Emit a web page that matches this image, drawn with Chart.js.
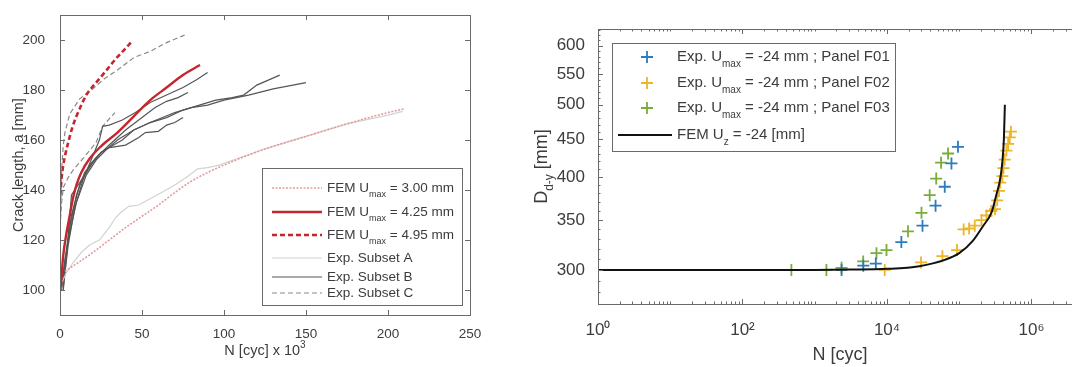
<!DOCTYPE html>
<html lang="en">
<head>
<meta charset="UTF-8">
<title>Crack length and D_d-y vs number of cycles</title>
<script src="https://cdn.jsdelivr.net/npm/chart.js@4.4.1/dist/chart.umd.min.js"></script>
<style>
    html, body {
        margin: 0;
        padding: 0;
        background: #ffffff;
        width: 1072px;
        height: 367px;
        overflow: hidden;
    }
    #leftChart { position: absolute; left: 0; top: 0; }
    #rightChart { position: absolute; left: 530px; top: 0; }
</style>
</head>
<body>
<canvas id="leftChart" width="490" height="367"></canvas>
<canvas id="rightChart" width="580" height="367"></canvas>
<script>
// ---------- left panel: N [cyc] x 10^3 vs crack length a [mm] ----------
const aTicksX = [0, 50, 100, 150, 200, 250];
const aTicksY = [100, 120, 140, 160, 180, 200];

const fem300N = [3, 10, 20, 30, 40, 50, 60, 70, 80, 90, 100, 115, 130, 150, 175, 200, 210];
const fem300A = [107.5, 110.5, 115, 120, 125, 129.5, 134, 139, 143.5, 147, 150, 154, 157.5, 161.5, 166.5, 171, 172.5];
const fem425N = [0.5, 1, 2, 4, 6, 8, 10, 13, 18, 25, 35, 45, 55, 65, 75, 85.4];
const fem425A = [101, 106, 114, 123, 130, 137, 142, 147, 152.5, 157.5, 163, 169.5, 176, 181, 186, 190];
const fem495N = [0.2, 1, 2, 3.5, 5, 7.5, 10, 13, 16, 20, 24, 29, 34, 39, 44];
const fem495A = [138, 145, 150, 155, 159, 165, 169.5, 174, 178, 181.5, 184.5, 188.5, 192.5, 196, 199.6];

const expAN = [1, 4, 8, 13, 18, 24, 30, 34, 37, 42, 48, 55, 62, 70, 78, 84, 90, 97, 110, 125, 150, 175, 200, 209];
const expAA = [103, 107, 111, 115, 118, 120, 125, 129, 131, 133.5, 134, 136.5, 139, 142, 145.5, 148.5, 149, 150, 153, 156.5, 161.5, 166.5, 170, 171.5];

const expB1N = [2, 5, 9, 14, 19, 24, 26, 30, 38, 46, 55, 65, 75, 83, 90];
const expB1A = [101, 118, 133, 144, 152, 160, 165.5, 166, 168, 171, 175, 178, 181, 184, 187];
const expB2N = [2, 6, 10, 15, 22, 30, 40, 50, 58, 65, 72, 78];
const expB2A = [104, 125, 138, 147, 153, 158, 164, 169, 173, 175.5, 177, 179];
const expB3N = [1, 3, 7, 12, 18, 25, 30, 38, 45, 55, 65, 75, 85, 95, 105, 112, 120, 127, 134];
const expB3A = [100, 112, 130, 142, 150, 155, 157, 160, 164, 167, 169, 172, 174, 176, 177, 178, 182, 184, 186];
const expB4N = [1, 5, 10, 16, 22, 28, 35, 45, 55, 70, 80, 90, 100, 115, 130, 150];
const expB4A = [103, 120, 135, 146, 152, 156, 160, 164, 167, 171, 173, 174, 176, 178, 180.5, 183];
const expB5N = [2, 4, 7, 10, 15, 20, 25, 30, 40, 48, 52, 60, 65, 70, 75];
const expB5A = [100, 114, 138, 141, 146, 151, 155, 157, 158, 161, 163, 163.5, 166, 167, 169];

const expC1N = [0, 0.5, 1, 2, 3, 6, 12, 20, 27, 35, 45, 55, 65, 76];
const expC1A = [120, 135, 148, 158, 163, 170.5, 176.5, 180.5, 184.5, 188, 193, 195.5, 199, 202];
const expC2N = [0, 1, 2, 5, 8, 12, 17, 22, 26, 30, 33.5];
const expC2A = [125, 135, 141, 145, 148, 151, 155, 159, 165.5, 168.5, 171];

// ---------- right panel: N [cyc] vs D_d-y [mm] ----------
const dTicksX = [1, 100, 10000, 1000000];
const dTicksY = [300, 350, 400, 450, 500, 550, 600];

const f01N = [2350, 4700, 7000, 15800, 31000, 47000, 63000, 78000, 96000];
const f01D = [300, 304, 306, 327, 344, 366, 388, 417, 439];
const f02N = [9300, 29600, 58500, 93000, 115000, 137000, 164000, 203000, 238000, 277000, 312000,
              335000, 355000, 370000, 395000, 410000, 425000, 450000, 475000, 500000, 520000];
const f02D = [300, 307, 313, 319, 340, 341, 344, 350, 355, 360, 362,
              372, 383, 393, 401, 411, 422, 434, 443, 452, 460];
const f03N = [1, 475, 1450, 2350, 4680, 7150, 9840, 19500, 30000, 39000, 48000, 56000, 70000];
const f03D = [300, 300, 300, 302, 308, 316, 319, 338, 358, 378, 398, 418, 430];
const femZN = [1, 10, 100, 1000, 3000, 10000, 28000, 63000, 100000, 155000, 215000, 280000,
               325000, 370000, 395000, 415000, 428000];
const femZD = [300, 300, 300, 300, 300.3, 301, 303.5, 309.5, 316, 328.5, 344, 358.5,
               378, 398, 419, 450, 500];

const FONT = '"Liberation Sans", Arial, Helvetica, sans-serif';
const TEXT = '#3c3c3c';
const BOX = '#6a6a6a';
Chart.defaults.font.family = FONT;
Chart.defaults.color = TEXT;

const pairs = (xs, ys) => xs.map((x, i) => ({ x: x, y: ys[i] }));

// text with _{sub} and ^{sup} parts
function richParts(text) {
    const parts = [];
    const re = /([_^])\{([^}]*)\}|([^_^]+)/g;
    let m;
    while ((m = re.exec(text))) {
        parts.push(m[3] !== undefined ? { t: m[3], k: '' } : { t: m[2], k: m[1] });
    }
    return parts;
}
function drawRich(ctx, text, x, y, size, align) {
    const parts = richParts(text);
    const fontFor = k => (k ? Math.round(size * 0.68) : size) + 'px ' + FONT;
    let w = 0;
    parts.forEach(p => { ctx.font = fontFor(p.k); p.w = ctx.measureText(p.t).width; w += p.w; });
    let cx = align === 'center' ? x - w / 2 : x;
    ctx.textAlign = 'left';
    ctx.textBaseline = 'middle';
    parts.forEach(p => {
        ctx.font = fontFor(p.k);
        const dy = p.k === '_' ? size * 0.45 : (p.k === '^' ? -size * 0.42 : 0);
        ctx.fillText(p.t, cx, y + dy);
        cx += p.w;
    });
}

// matlab style box, inward ticks and axis titles
const matlabAxes = {
    id: 'matlabAxes',
    afterDatasetsDraw(chart, args, o) {
        const { ctx, chartArea: a, scales } = chart;
        const sx = scales.x, sy = scales.y;
        ctx.save();
        ctx.strokeStyle = BOX;
        ctx.lineWidth = 1;
        ctx.strokeRect(Math.round(a.left) + 0.5, Math.round(a.top) + 0.5,
                       Math.round(a.right - a.left), Math.round(a.bottom - a.top));
        const seg = (x1, y1, x2, y2) => { ctx.beginPath(); ctx.moveTo(x1, y1); ctx.lineTo(x2, y2); ctx.stroke(); };
        const xt = (v, len) => {
            const p = Math.round(sx.getPixelForValue(v)) + 0.5;
            seg(p, a.bottom, p, a.bottom - len); seg(p, a.top, p, a.top + len);
        };
        const yt = (v, len) => {
            const p = Math.round(sy.getPixelForValue(v)) + 0.5;
            seg(a.left, p, a.left + len, p); seg(a.right, p, a.right - len, p);
        };
        sx.ticks.forEach(t => xt(t.value, 5));
        sy.ticks.forEach(t => yt(t.value, 5));
        if (sx.type === 'logarithmic') {
            for (let d = Math.floor(Math.log10(sx.min)); d <= Math.ceil(Math.log10(sx.max)); d++) {
                for (let k = 1; k <= 9; k++) {
                    const v = k * Math.pow(10, d);
                    if (v >= sx.min && v <= sx.max) xt(v, 2.5);
                }
            }
        }
        if (sy.type === 'logarithmic') {
            for (let v = Math.ceil(sy.min / 10) * 10; v <= sy.max; v += 10) yt(v, 2.5);
        }
        ctx.fillStyle = TEXT;
        drawRich(ctx, o.xTitle, (a.left + a.right) / 2, o.xTitleY, o.titleSize, 'center');
        ctx.translate(o.yTitleX, (a.top + a.bottom) / 2);
        ctx.rotate(-Math.PI / 2);
        drawRich(ctx, o.yTitle, 0, 0, o.titleSize, 'center');
        ctx.restore();
    }
};

// legend box drawn from the datasets flagged with legend: true
const boxLegend = {
    id: 'boxLegend',
    afterDraw(chart, args, o) {
        const ctx = chart.ctx;
        ctx.save();
        ctx.fillStyle = '#ffffff';
        ctx.strokeStyle = BOX;
        ctx.lineWidth = 1;
        ctx.fillRect(o.left, o.top, o.width, o.height);
        ctx.strokeRect(o.left + 0.5, o.top + 0.5, o.width, o.height);
        const items = chart.data.datasets.filter(ds => ds.legend);
        items.forEach((ds, i) => {
            const y = o.rows[i];
            ctx.strokeStyle = ds.borderColor;
            if (ds.showLine === false) {
                const r = ds.pointRadius;
                ctx.lineWidth = ds.pointBorderWidth;
                ctx.beginPath();
                ctx.moveTo(o.markerX - r, y); ctx.lineTo(o.markerX + r, y);
                ctx.moveTo(o.markerX, y - r); ctx.lineTo(o.markerX, y + r);
                ctx.stroke();
            } else {
                ctx.lineWidth = ds.borderWidth;
                ctx.setLineDash(ds.borderDash || []);
                ctx.beginPath();
                ctx.moveTo(o.sample[0], y); ctx.lineTo(o.sample[1], y);
                ctx.stroke();
                ctx.setLineDash([]);
            }
            ctx.fillStyle = TEXT;
            drawRich(ctx, ds.label, o.textX, y, o.size, 'left');
        });
        ctx.restore();
    }
};

function curve(label, xs, ys, color, width, dash, legend, smooth, order) {
    return {
        label: label, data: pairs(xs, ys), borderColor: color, borderWidth: width,
        borderDash: dash, pointRadius: 0, fill: false, legend: legend, order: order,
        cubicInterpolationMode: smooth ? 'monotone' : 'default', tension: 0
    };
}

const RED = '#c3272d';
const leftSets = [
    curve('FEM U_{max} = 3.00 mm', fem300N, fem300A, '#e59a9c', 1.6, [2, 1.5], true, true, 1),
    curve('FEM U_{max} = 4.25 mm', fem425N, fem425A, RED, 2.4, [], true, true, 0),
    curve('FEM U_{max} = 4.95 mm', fem495N, fem495A, RED, 2.6, [5, 3], true, true, 0),
    curve('Exp. Subset A', expAN, expAA, '#d2d2d2', 1.2, [], true, false, 2),
    curve('Exp. Subset B', expB1N, expB1A, '#555555', 1.2, [], true, false, 2),
    curve('Exp. Subset C', expC1N, expC1A, '#8a8a8a', 1.2, [5, 3], true, false, 2),
    curve('Exp. Subset B', expB2N, expB2A, '#555555', 1.2, [], false, false, 2),
    curve('Exp. Subset B', expB3N, expB3A, '#555555', 1.2, [], false, false, 2),
    curve('Exp. Subset B', expB4N, expB4A, '#555555', 1.2, [], false, false, 2),
    curve('Exp. Subset B', expB5N, expB5A, '#555555', 1.2, [], false, false, 2),
    curve('Exp. Subset C', expC2N, expC2A, '#8a8a8a', 1.2, [5, 3], false, false, 2)
];

new Chart(document.getElementById('leftChart'), {
    type: 'line',
    data: { datasets: leftSets },
    options: {
        responsive: false,
        animation: false,
        events: [],
        layout: { padding: { top: 12, right: 20, left: 0, bottom: 0 } },
        scales: {
            x: {
                type: 'linear', min: 0, max: 250,
                grid: { display: false }, border: { display: false },
                ticks: { font: { size: 13.5 }, padding: 3, color: TEXT },
                afterBuildTicks: s => { s.ticks = aTicksX.map(v => ({ value: v })); },
                afterFit: s => { s.height = 52; }
            },
            y: {
                type: 'linear', min: 90, max: 210,
                grid: { display: false }, border: { display: false },
                ticks: { font: { size: 13.5 }, padding: 7, color: TEXT },
                afterBuildTicks: s => { s.ticks = aTicksY.map(v => ({ value: v })); },
                afterFit: s => { s.width = 60; }
            }
        },
        plugins: {
            legend: { display: false },
            tooltip: { enabled: false },
            matlabAxes: { xTitle: 'N [cyc] x 10^{3}', xTitleY: 351, yTitle: 'Crack length, a [mm]', yTitleX: 19, titleSize: 14.5 },
            boxLegend: { left: 262, top: 168, width: 200, height: 137, rows: [188, 212, 235, 258, 277, 293],
                         sample: [272, 322], markerX: 297, textX: 327, size: 13.5 }
        }
    },
    plugins: [matlabAxes, boxLegend]
});

const SUP = { 0: '\u2070', 1: '\u00b9', 2: '\u00b2', 3: '\u00b3', 4: '\u2074', 5: '\u2075', 6: '\u2076' };
const marks = (label, xs, ys, color) => ({
    label: label, data: pairs(xs, ys), showLine: false, pointStyle: 'cross',
    pointRadius: 6, pointBorderWidth: 1.8, borderColor: color, backgroundColor: color,
    legend: true, order: 1
});

new Chart(document.getElementById('rightChart'), {
    type: 'scatter',
    data: {
        datasets: [
            marks('Exp. U_{max} = -24 mm ; Panel F01', f01N, f01D, '#2b7bbd'),
            marks('Exp. U_{max} = -24 mm ; Panel F02', f02N, f02D, '#ecb52a'),
            marks('Exp. U_{max} = -24 mm ; Panel F03', f03N, f03D, '#79ad3a'),
            {
                label: 'FEM U_{z} = -24 [mm]', data: pairs(femZN, femZD), showLine: true,
                borderColor: '#111111', borderWidth: 2, pointRadius: 0,
                cubicInterpolationMode: 'monotone', legend: true, order: 0
            }
        ]
    },
    options: {
        responsive: false,
        animation: false,
        events: [],
        layout: { padding: { top: 29, right: 28, left: 0, bottom: 0 } },
        scales: {
            x: {
                type: 'logarithmic', min: 1, max: 5000000,
                grid: { display: false }, border: { display: false },
                ticks: {
                    font: { size: 17 }, padding: 8, color: TEXT,
                    callback: v => '10' + SUP[Math.round(Math.log10(v))]
                },
                afterBuildTicks: s => { s.ticks = dTicksX.map(v => ({ value: v })); },
                afterFit: s => { s.height = 63; }
            },
            y: {
                type: 'logarithmic', min: 270, max: 632,
                grid: { display: false }, border: { display: false },
                ticks: { font: { size: 17 }, padding: 5, color: TEXT, callback: v => String(v) },
                afterBuildTicks: s => { s.ticks = dTicksY.map(v => ({ value: v })); },
                afterFit: s => { s.width = 68; }
            }
        },
        plugins: {
            legend: { display: false },
            tooltip: { enabled: false },
            matlabAxes: { xTitle: 'N [cyc]', xTitleY: 355, yTitle: 'D_{d-y} [mm]', yTitleX: 12, titleSize: 18 },
            boxLegend: { left: 82, top: 43, width: 283, height: 108, rows: [57, 83, 108, 135],
                         sample: [88, 142], markerX: 117, textX: 147, size: 15 }
        }
    },
    plugins: [matlabAxes, boxLegend]
});
</script>
</body>
</html>
